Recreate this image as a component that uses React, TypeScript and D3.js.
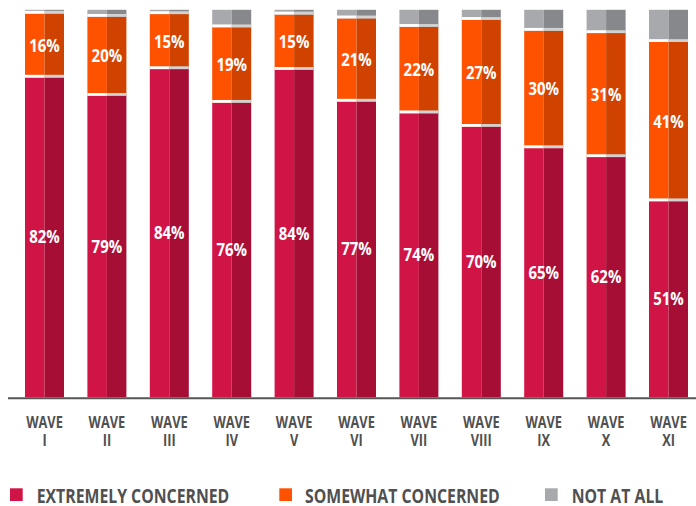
import React from "react";
import * as d3 from "d3";

const waves = ["I", "II", "III", "IV", "V", "VI", "VII", "VIII", "IX", "X", "XI"];
const extremely = [82.5, 77.8, 84.7, 76.0, 84.5, 76.3, 73.3, 69.8, 64.3, 62.0, 50.6];
const somewhat = [16.5, 20.4, 14.2, 19.5, 14.3, 21.5, 22.3, 27.6, 30.3, 32.0, 41.1];
const notAtAll = [1.0, 1.8, 1.1, 4.5, 1.2, 2.2, 4.4, 2.6, 5.4, 6.0, 8.3];
const extremelyLabels = ["82%", "79%", "84%", "76%", "84%", "77%", "74%", "70%", "65%", "62%", "51%"];
const somewhatLabels = ["16%", "20%", "15%", "19%", "15%", "21%", "22%", "27%", "30%", "31%", "41%"];
const seriesNames = ["EXTREMELY CONCERNED", "SOMEWHAT CONCERNED", "NOT AT ALL"];

const W = 696;
const H = 506;
const FONT = "'Open Sans', sans-serif";
const TEXT_COLOR = "#505050";
const colors = [
  { light: "#D11446", dark: "#A70E36" },
  { light: "#FF5200", dark: "#CF4200" },
  { light: "#A8A9AC", dark: "#87888B" },
];

function CText({ x, y, sx, size, fill, children }: any) {
  return (
    <text
      transform={`translate(${x},${y}) scale(${sx},1)`}
      textAnchor="middle"
      fontFamily={FONT}
      fontWeight={700}
      fontSize={size}
      fill={fill}
    >
      {children}
    </text>
  );
}

export default function App() {
  const x = d3
    .scaleBand<string>()
    .domain(waves)
    .range([13.3, 699.7])
    .paddingInner(0.375)
    .paddingOuter(0.1875);
  const y = d3.scaleLinear().domain([0, 100]).range([397.3, 9.8]);

  const rows = waves.map((w, i) => ({ wave: w, e: extremely[i], s: somewhat[i], n: notAtAll[i] }));
  const stack = d3.stack<any>().keys(["e", "s", "n"])(rows);
  const labels = [extremelyLabels, somewhatLabels, null];
  const bw = x.bandwidth();

  return (
    <svg width={W} height={H} style={{ position: "absolute", left: 0, top: 0 }}>
      {stack.map((layer, li) => (
        <g key={li}>
          {layer.map((d, i) => {
            const x0 = x(waves[i]) as number;
            const yTop = y(d[1]);
            const yBot = y(d[0]);
            return (
              <g key={i}>
                <rect x={x0} y={yTop} width={bw / 2} height={yBot - yTop} fill={colors[li].light} />
                <rect x={x0 + bw / 2} y={yTop} width={bw / 2} height={yBot - yTop} fill={colors[li].dark} />
                {li > 0 && (
                  <g>
                    <rect x={x0} y={yBot - 2.8} width={bw / 2} height={2.8} fill="#ffffff" />
                    <rect x={x0 + bw / 2} y={yBot - 2.8} width={bw / 2} height={2.8} fill="#d2d2d2" />
                  </g>
                )}
              </g>
            );
          })}
        </g>
      ))}
      {stack.map((layer, li) =>
        labels[li]
          ? layer.map((d, i) => {
              const cx = (x(waves[i]) as number) + bw / 2;
              const cy = (y(d[0]) + y(d[1])) / 2;
              return (
                <CText key={`${li}-${i}`} x={cx} y={cy + 6} sx={0.88} size={17} fill="#ffffff">
                  {(labels[li] as string[])[i]}
                </CText>
              );
            })
          : null
      )}
      <line x1={8} x2={W} y1={398.3} y2={398.3} stroke="#555555" strokeWidth={2} />
      {waves.map((w) => {
        const cx = (x(w) as number) + bw / 2;
        return (
          <g key={w}>
            <CText x={cx} y={427.7} sx={0.76} size={16.8} fill={TEXT_COLOR}>WAVE</CText>
            <CText x={cx} y={445.8} sx={0.76} size={16.8} fill={TEXT_COLOR}>{w}</CText>
          </g>
        );
      })}
      {seriesNames.map((name, i) => {
        const lx = [10, 279.3, 545][i];
        const tx = [36.7, 305, 571.7][i];
        return (
          <g key={name}>
            <rect x={lx} y={488.3} width={12.7} height={12.7} fill={colors[i].light} />
            <text
              transform={`translate(${tx},502.5) scale(0.79,1)`}
              fontFamily={FONT}
              fontWeight={700}
              fontSize={20}
              fill={TEXT_COLOR}
            >
              {name}
            </text>
          </g>
        );
      })}
    </svg>
  );
}
